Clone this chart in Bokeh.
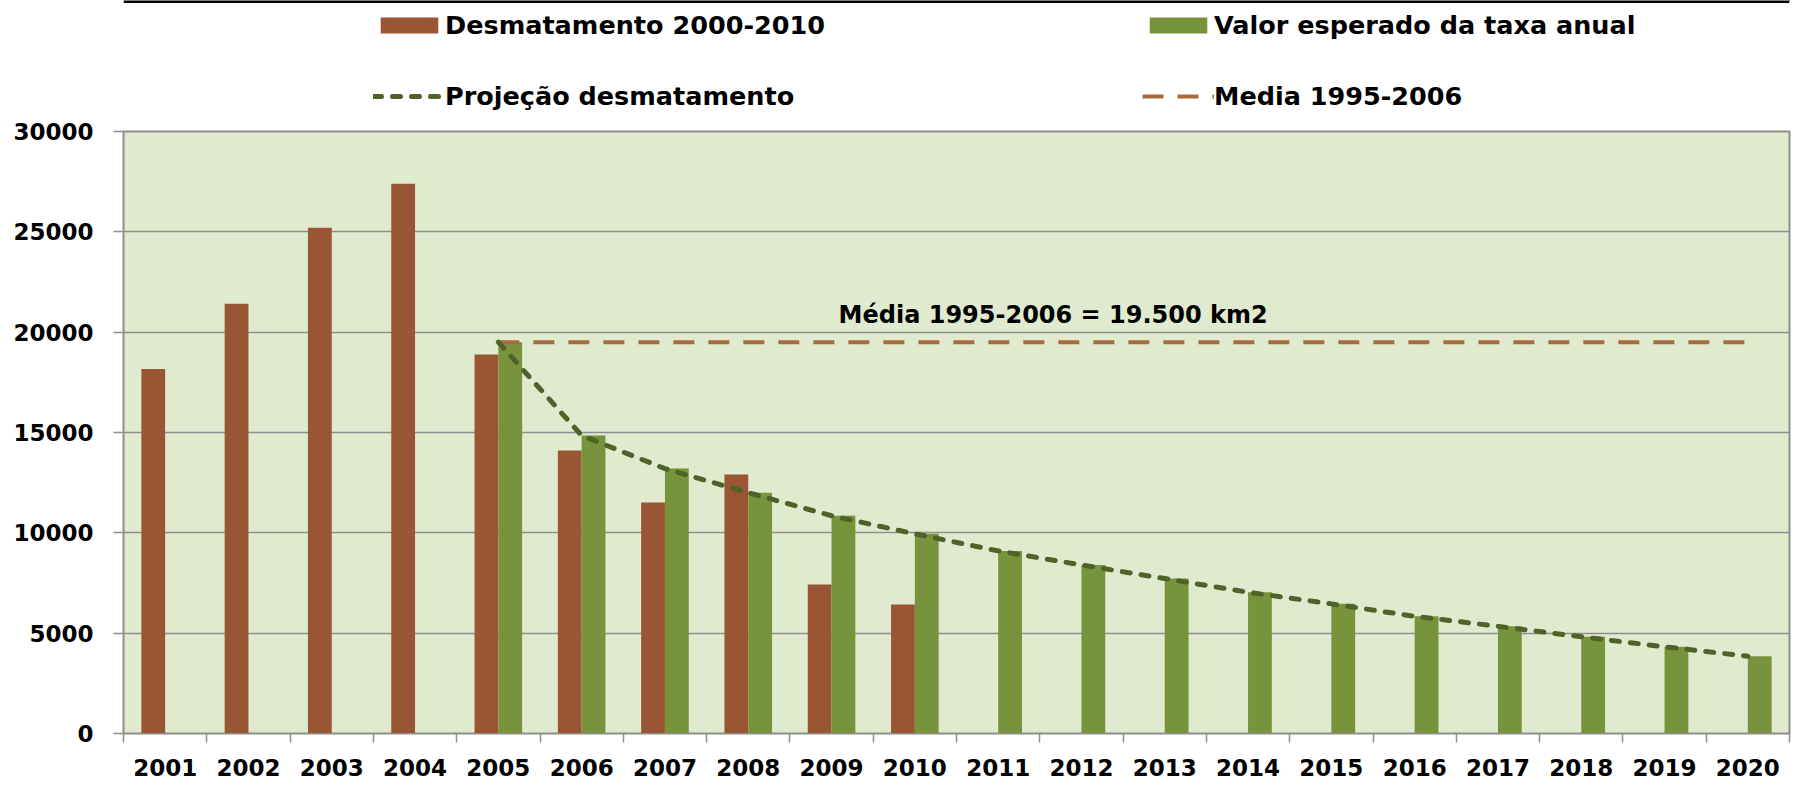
from bokeh.plotting import figure
from bokeh.layouts import column
from bokeh.models import (Range1d, FixedTicker, Legend, LegendItem, Label,
                          ColumnDataSource, Span)
from bokeh.embed import file_html
from bokeh.resources import INLINE

# ---------------- data ----------------
years = [str(y) for y in range(2001, 2021)]

desmat_years = years[:10]
desmat_values = [18165, 21420, 25200, 27400, 18890, 14100, 11510, 12910, 7420, 6430]

esperado_years = years[4:]
esperado_values = [19500, 14850, 13200, 12000, 10850, 9950, 9100, 8400, 7720,
                   7040, 6460, 5840, 5340, 4820, 4320, 3850]

media_years = ["2005", "2020"]
media_value = 19500

y_ticks = [0, 5000, 10000, 15000, 20000, 25000, 30000]

label_desmat = "Desmatamento 2000-2010"
label_esperado = "Valor esperado da taxa anual"
label_proj = "Projeção desmatamento"
label_media = "Media 1995-2006"
annot_text = "Média 1995-2006 = 19.500 km2"

# ---------------- styles ----------------
BG = "#E0EACE"
BROWN = "#9A5634"
GREEN = "#77933C"
DKGREEN = "#4F6228"
MEDIA_C = "#A86B3C"
GRID = "#8E8E8E"
FONT = "DejaVu Sans"

idx = {y: i for i, y in enumerate(years)}
bar_w = 1 / 3.5
centers = [idx[y] + 0.5 for y in years]

src_brown = ColumnDataSource(dict(
    x=[idx[y] + 0.5 - bar_w / 2 for y in desmat_years], top=desmat_values))
src_green = ColumnDataSource(dict(
    x=[idx[y] + 0.5 + bar_w / 2 for y in esperado_years], top=esperado_values))
src_proj = ColumnDataSource(dict(
    x=[idx[y] + 0.5 for y in esperado_years], y=esperado_values))
src_media = ColumnDataSource(dict(
    x=[idx[y] + 0.5 for y in media_years], y=[media_value] * len(media_years)))

bar_style_b = dict(fill_color=BROWN, line_color=None)
bar_style_g = dict(fill_color=GREEN, line_color=None)
media_style = dict(line_color=MEDIA_C, line_width=4, line_dash="21 14")
proj_style = dict(line_color=DKGREEN, line_width=5, line_dash="8 11", line_cap="round")

# ---------------- main chart ----------------
p = figure(width=1792, height=673, output_backend="svg", toolbar_location=None,
           x_range=Range1d(0, len(years)), y_range=Range1d(0, 30000),
           min_border_left=123, min_border_right=3, min_border_top=19,
           min_border_bottom=52)

p.background_fill_color = BG
p.border_fill_color = "white"
p.outline_line_color = GRID
p.outline_line_width = 2

p.xgrid.visible = False
p.ygrid.grid_line_color = GRID
p.ygrid.grid_line_width = 1.5
p.ygrid.ticker = FixedTicker(ticks=y_ticks)

p.vbar(x="x", top="top", width=bar_w, source=src_brown, **bar_style_b)
p.vbar(x="x", top="top", width=bar_w, source=src_green, **bar_style_g)
p.line(x="x", y="y", source=src_media, **media_style)
p.line(x="x", y="y", source=src_proj, **proj_style)

# y axis
ya = p.yaxis[0]
ya.ticker = FixedTicker(ticks=y_ticks)
ya.major_label_text_font = FONT
ya.major_label_text_font_style = "bold"
ya.major_label_text_font_size = "23px"
ya.major_label_text_color = "black"
ya.major_label_standoff = 20
ya.major_tick_out = 10
ya.major_tick_in = 0
ya.major_tick_line_color = GRID
ya.major_tick_line_width = 1.5
ya.minor_tick_line_color = None
ya.axis_line_color = GRID

# x axis: labels at category centres, ticks at category boundaries
xa = p.xaxis[0]
xa.ticker = FixedTicker(ticks=centers, minor_ticks=list(range(len(years) + 1)))
xa.major_label_overrides = {c: y for c, y in zip(centers, years)}
xa.major_tick_line_color = None
xa.major_tick_out = 9
xa.major_tick_in = 0
xa.major_label_standoff = 16
xa.major_label_text_font = FONT
xa.major_label_text_font_style = "bold"
xa.major_label_text_font_size = "23px"
xa.major_label_text_color = "black"
xa.minor_tick_out = 9
xa.minor_tick_in = 0
xa.minor_tick_line_color = GRID
xa.minor_tick_line_width = 1.5
xa.axis_line_color = GRID

annot = Label(x=11.16, y=media_value, y_offset=27, text=annot_text,
              text_align="center", text_baseline="middle",
              text_font=FONT, text_font_style="bold",
              text_font_size="24px", text_color="black")
p.add_layout(annot)

# ---------------- legend strip above the chart ----------------
# same series drawn entirely outside this strip's ranges (invisible),
# so the legend can show their swatches
lg = figure(width=1792, height=112, output_backend="svg", toolbar_location=None,
            x_range=Range1d(-3, -2), y_range=Range1d(-3, -2), min_border=0)
lg.axis.visible = False
lg.grid.visible = False
lg.outline_line_color = None
lg.background_fill_color = "white"

l_b = lg.vbar(x="x", top="top", width=bar_w, source=src_brown, **bar_style_b)
l_g = lg.vbar(x="x", top="top", width=bar_w, source=src_green, **bar_style_g)
l_p = lg.line(x="x", y="y", source=src_proj, **proj_style)
l_m = lg.line(x="x", y="y", source=src_media, **media_style)

lg.add_layout(Span(location=-2, dimension="width", line_color="black",
                   line_width=5))

legend = Legend(items=[LegendItem(label=label_desmat, renderers=[l_b]),
                       LegendItem(label=label_esperado, renderers=[l_g]),
                       LegendItem(label=label_proj, renderers=[l_p]),
                       LegendItem(label=label_media, renderers=[l_m])],
                location=(250, 1), orientation="horizontal", ncols=2,
                glyph_width=72, glyph_height=20, label_height=20,
                label_width=656, label_standoff=0, spacing=41,
                padding=0, margin=0, border_line_color=None,
                background_fill_alpha=0,
                label_text_font=FONT, label_text_font_style="bold",
                label_text_font_size="25.5px", label_text_color="black")
lg.add_layout(legend)

layout = column(lg, p, spacing=0)

open("out.html", "w").write(file_html(layout, INLINE))
